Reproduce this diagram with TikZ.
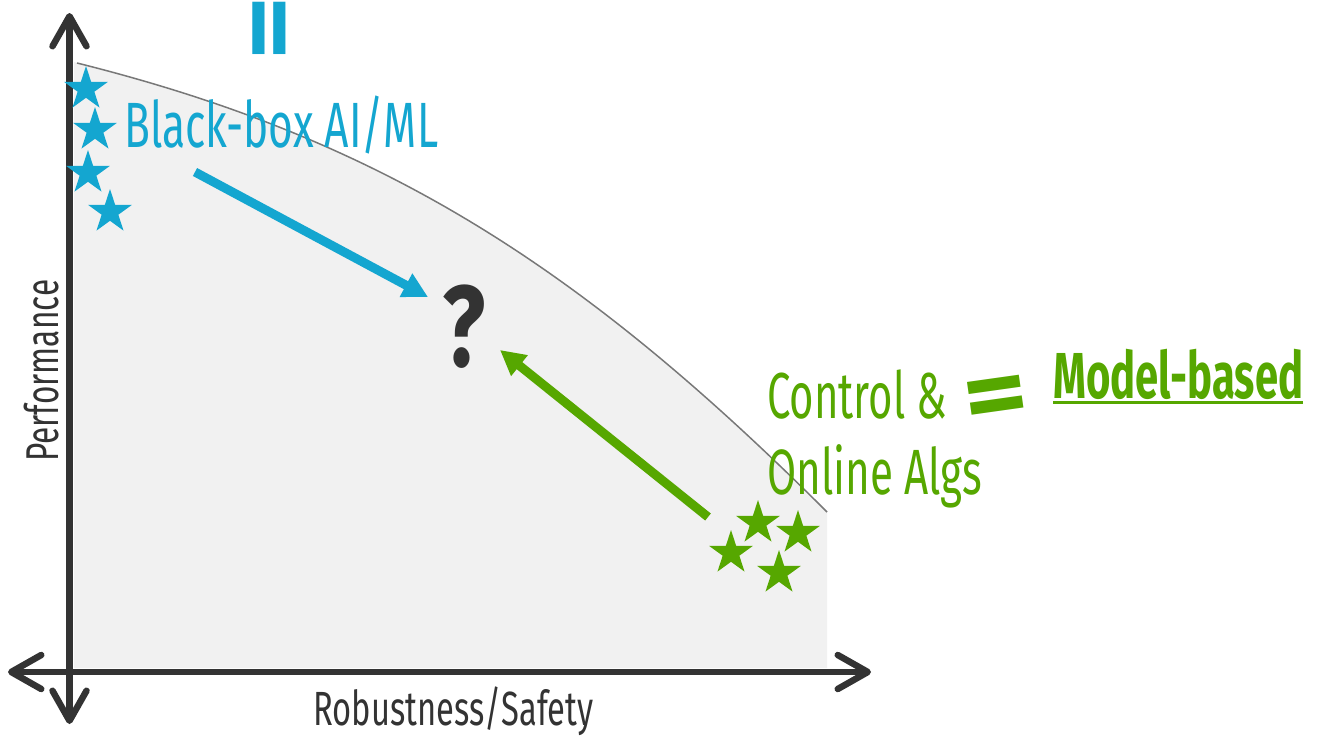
\documentclass[tikz,border=0pt]{standalone}
\usepackage{fontspec}
\setmainfont{Fira Sans}
\usetikzlibrary{arrows.meta,shapes.geometric,calc}
\definecolor{mlblue}{HTML}{14A6D0}
\definecolor{mbgreen}{HTML}{56A700}
\definecolor{axisgray}{HTML}{333333}
\definecolor{regiongray}{HTML}{F1F1F1}
\definecolor{frontier}{HTML}{787878}
% squeeze a label horizontally to a given width, keeping its height
\newcommand\squeeze[2]{\resizebox{#1}{\height}{#2}}
\newcommand\fs[1]{\fontsize{#1}{#1}\selectfont}
% a long, heavy equals sign
\newcommand\bigeq{\scalebox{1.55}[1.25]{=}}
\begin{document}
\begin{tikzpicture}[x=1pt,y=-1pt,
  axisline/.style={line width=6.5pt, draw=axisgray,
    {Straight Barb[length=30pt,width=34pt,round]}-{Straight Barb[length=30pt,width=34pt,round]}},
  flow/.style={line width=9pt, -{Triangle[length=25pt,width=25pt]}},
  bstar/.style={star, star points=5, star point ratio=2.618, minimum size=46pt,
    inner sep=0pt, fill=mlblue},
  gstar/.style={bstar, fill=mbgreen},
  lbl/.style={inner sep=0pt, anchor=base west},
  eqsign/.style={inner sep=0pt, font=\bfseries\fs{80}}]
\useasboundingbox (0,0) rectangle (1322,736);

% feasible region under the trade-off frontier
\fill[regiongray] (74,62) .. controls (377,138) and (577,262) .. (827,512)
  -- (827,668) -- (74,668) -- cycle;
\draw[frontier, line width=1.5pt] (77,63) .. controls (377,138) and (577,262) .. (827,512);

% axes
\coordinate (ytop) at (69.5,13);
\coordinate (ybot) at (69.5,724);
\coordinate (xleft) at (8,672);
\coordinate (xright) at (871,672);
\draw[axisline] (ybot) -- (ytop);
\draw[axisline] (xleft) -- (xright);

% axis labels
\node[lbl, text=axisgray, font=\fs{48}] (xl) at (313,725) {\squeeze{280pt}{Robustness/Safety}};
\node[lbl, text=axisgray, font=\fs{46}, rotate=90] (yl) at (58,462) {\squeeze{182pt}{Performance}};

% black-box learners
\node[bstar] (s1) at (86,89) {};
\node[bstar] (s2) at (95,130) {};
\node[bstar] (s3) at (88,173) {};
\node[bstar] (s4) at (110,212) {};
\node[lbl, text=mlblue, font=\fs{64}] (bb) at (124,147) {\squeeze{314pt}{Black-box AI/ML}};
\node[eqsign, text=mlblue, rotate=90] (beq) at (278,28) {\makebox[0.8\width]{\bigeq}};

% model-based methods
\node[gstar] (g1) at (758,523) {};
\node[gstar] (g2) at (798,533) {};
\node[gstar] (g3) at (731,553) {};
\node[gstar] (g4) at (779,573) {};
\node[lbl, text=mbgreen, font=\fs{65}] (ctl) at (767,418) {\squeeze{180pt}{Control \&}};
\node[lbl, text=mbgreen, font=\fs{64}] (onl) at (767,494) {\squeeze{215pt}{Online Algs}};
\node[eqsign, text=mbgreen, rotate=8] (geq) at (997,403) {\bigeq};
\node[lbl, text=mbgreen, font=\bfseries\fs{65}] (mb) at (1053,398) {\squeeze{250pt}{Model-based}};
\draw[mbgreen, line width=3pt] ($(mb.base west)+(0,4.5)$) -- ($(mb.base east)+(0,4.5)$);

% the open question in between
\node[inner sep=0pt, text=axisgray, font=\bfseries\fs{115}] (q) at (464,327) {\scalebox{0.78}[1]{?}};
\coordinate (bt) at (195,172);
\coordinate (bh) at (428,297);
\draw[flow, mlblue] (bt) -- (bh);
\coordinate (gt) at (708,517);
\coordinate (gh) at (500,350);
\draw[flow, mbgreen] (gt) -- (gh);
\end{tikzpicture}
\end{document}
